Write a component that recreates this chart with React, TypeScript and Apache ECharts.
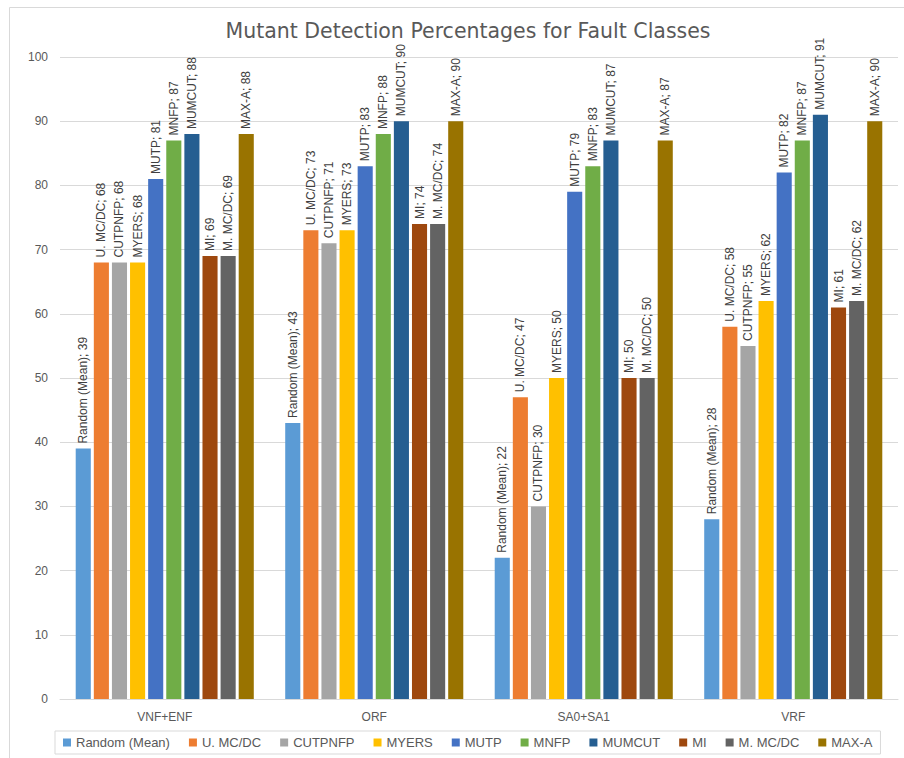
import React, { useEffect, useRef } from "react";
import * as echarts from "echarts";

const categories = ["VNF+ENF", "ORF", "SA0+SA1", "VRF"];
const seriesNames = ["Random (Mean)", "U. MC/DC", "CUTPNFP", "MYERS", "MUTP", "MNFP", "MUMCUT", "MI", "M. MC/DC", "MAX-A"];
const colors = ["#5B9BD5", "#ED7D31", "#A5A5A5", "#FFC000", "#4472C4", "#70AD47", "#255E91", "#9E480E", "#636363", "#997300"];
const randomMean = [39, 43, 22, 28];
const uMcdc = [68, 73, 47, 58];
const cutpnfp = [68, 71, 30, 55];
const myers = [68, 73, 50, 62];
const mutp = [81, 83, 79, 82];
const mnfp = [87, 88, 83, 87];
const mumcut = [88, 90, 87, 91];
const mi = [69, 74, 50, 61];
const mMcdc = [69, 74, 50, 62];
const maxA = [88, 90, 87, 90];
const seriesValues = [randomMean, uMcdc, cutpnfp, myers, mutp, mnfp, mumcut, mi, mMcdc, maxA];

export default function App() {
  const ref = useRef<HTMLDivElement>(null);
  useEffect(() => {
    document.body.style.margin = "0";
    const chart = echarts.init(ref.current!, null, { renderer: "svg" });
    chart.setOption({
      animation: false,
      backgroundColor: "#ffffff",
      color: colors,
      title: {
        text: "Mutant Detection Percentages for Fault Classes",
        left: 463,
        textAlign: "center",
        top: 15,
        textStyle: { fontFamily: "DejaVu Sans, sans-serif", fontSize: 20.5, fontWeight: "normal", color: "#595959" },
      },
      graphic: [
        {
          type: "rect",
          shape: { x: 9.5, y: 7.5, width: 900, height: 760 },
          style: { fill: "none", stroke: "#d9d9d9", lineWidth: 1 },
          silent: true,
        },
      ],
      legend: {
        top: 731,
        left: 55,
        itemWidth: 8,
        itemHeight: 8,
        itemGap: 19,
        padding: [5, 8, 5, 8],
        borderColor: "#d9d9d9",
        borderWidth: 1,
        icon: "rect",
        textStyle: { fontFamily: "Liberation Sans, sans-serif", fontSize: 13, color: "#595959" },
        data: seriesNames,
      },
      grid: { left: 60, right: 6, top: 57, bottom: 59, containLabel: false },
      xAxis: {
        type: "category",
        data: categories,
        axisTick: { show: false },
        axisLine: { lineStyle: { color: "#d9d9d9" } },
        axisLabel: { fontFamily: "Liberation Sans, sans-serif", fontSize: 12, color: "#595959", margin: 12 },
      },
      yAxis: {
        type: "value",
        min: 0,
        max: 100,
        interval: 10,
        axisLine: { show: false },
        axisTick: { show: false },
        splitLine: { lineStyle: { color: "#d9d9d9" } },
        axisLabel: { fontFamily: "Liberation Sans, sans-serif", fontSize: 12, color: "#595959", margin: 12 },
      },
      series: seriesNames.map((name, i) => ({
        name,
        type: "bar",
        data: seriesValues[i],
        barGap: "20%",
        barCategoryGap: "15%",
        itemStyle: { color: colors[i] },
        label: {
          show: true,
          position: "top",
          rotate: 90,
          align: "left",
          verticalAlign: "middle",
          distance: 5,
          formatter: "{a}; {c}",
          fontFamily: "Liberation Sans, sans-serif",
          fontSize: 12,
          color: "#404040",
        },
      })),
    });
    return () => chart.dispose();
  }, []);
  return <div ref={ref} style={{ width: 904, height: 758 }} />;
}
